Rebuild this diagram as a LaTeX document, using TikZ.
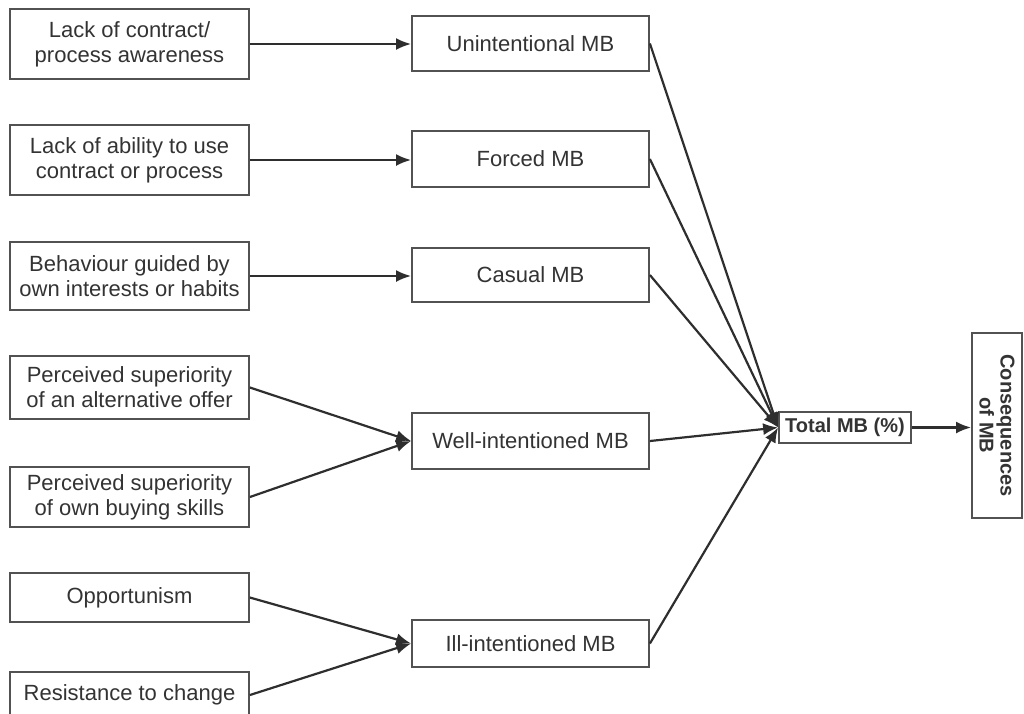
\documentclass[tikz,border=0pt]{standalone}
\usepackage{fontspec}
\setmainfont{Liberation Sans}
\usetikzlibrary{arrows.meta}
\begin{document}
\begin{tikzpicture}[x=1pt,y=-1pt,
  box/.style={draw=black!68,line width=1.8pt,fill=white,align=center,inner sep=0pt,
    text=black!80,font=\fontsize{22}{25}\selectfont},
  cause/.style={box,minimum width=239pt},
  mbbox/.style={box,minimum width=237pt},
  link/.style={draw=black!82,line width=2.2pt,-{Latex[length=15pt,width=12pt]}}]
\useasboundingbox (0,0) rectangle (1024,713);
\begin{scope}
\clip (0,0) rectangle (1024,713);
% causes
\node[cause,minimum height=70pt] (c1) at (129.5,44) {Lack of contract/\\process awareness};
\node[cause,minimum height=70pt] (c2) at (129.5,160) {Lack of ability to use\\contract or process};
\node[cause,minimum height=68pt] (c3) at (129.5,276) {Behaviour guided by\\own interests or habits};
\node[cause,minimum height=63pt] (c4) at (129.5,387.5) {Perceived superiority\\of an alternative offer};
\node[cause,minimum height=60pt] (c5) at (129.5,497) {Perceived superiority\\of own buying skills};
\node[cause,minimum height=49pt] (c6) at (129.5,597.5) {Opportunism};
\node[cause,minimum height=46pt] (c7) at (129.5,695) {Resistance to change};
% types of behaviour
\node[mbbox,minimum height=55pt] (m1) at (530.5,43.5) {Unintentional MB};
\node[mbbox,minimum height=56pt] (m2) at (530.5,159) {Forced MB};
\node[mbbox,minimum height=54pt] (m3) at (530.5,275) {Casual MB};
\node[mbbox,minimum height=56pt] (m4) at (530.5,441) {Well-intentioned MB};
\node[mbbox,minimum height=47pt] (m5) at (530.5,643.5) {Ill-intentioned MB};
% total and consequences
\node[box,minimum width=132pt,minimum height=31pt,font=\fontsize{20}{22}\selectfont\bfseries]
  (tot) at (845,427.5) {Total MB (\%)};
\node[box,rotate=-90,minimum width=185pt,minimum height=50pt,
  font=\fontsize{20}{21}\selectfont\bfseries] (cons) at (997,425.5) {Consequences\\of MB};
% connectors
\draw[link] (c1.east) -- (m1.west |- c1.east);
\draw[link] (c2.east) -- (m2.west |- c2.east);
\draw[link] (c3.east) -- (m3.west |- c3.east);
\draw[link] (c4.east) -- (m4.west);
\draw[link] (c5.east) -- (m4.west);
\draw[link] (c6.east) -- (m5.west);
\draw[link] (c7.east) -- (m5.west);
\foreach \m in {m1,m2,m3,m4,m5}
  \draw[link] (\m.east) -- (tot.west);
\draw[link] (tot.east) -- (tot.east -| cons.south);
\end{scope}
\end{tikzpicture}
\end{document}
